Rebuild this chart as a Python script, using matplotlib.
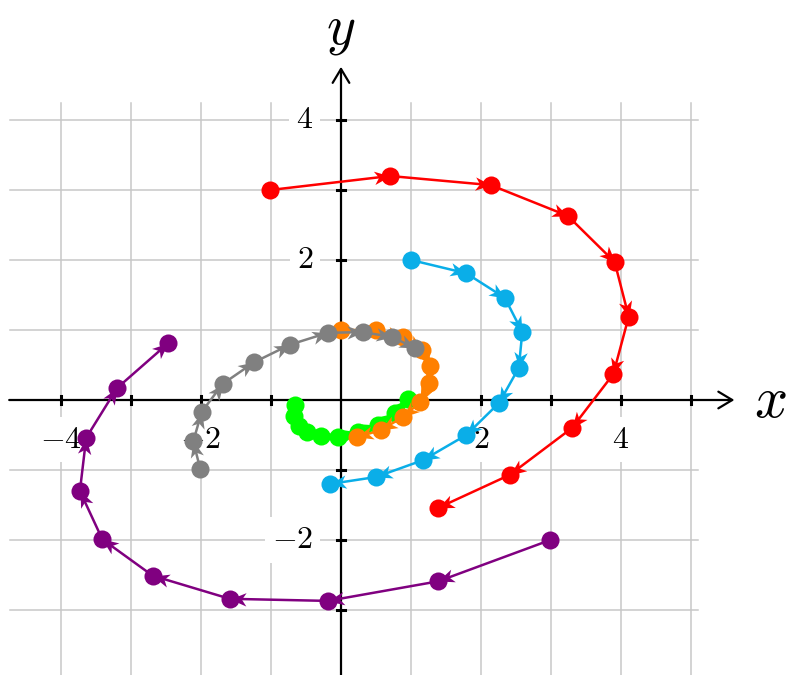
import math
import matplotlib
matplotlib.use("Agg")
import matplotlib.pyplot as plt
from matplotlib.path import Path
from matplotlib.markers import MarkerStyle
from matplotlib.transforms import Affine2D

plt.rcParams['mathtext.fontset'] = 'cm'

# trajectories, in travel order
red_x = [-1.01, 0.70, 2.14, 3.24, 3.91, 4.11, 3.89, 3.30, 2.41, 1.39]
red_y = [3.00, 3.20, 3.07, 2.63, 1.97, 1.19, 0.37, -0.40, -1.07, -1.54]

blue_x = [1.00, 1.79, 2.34, 2.59, 2.54, 2.26, 1.79, 1.17, 0.50, -0.16]
blue_y = [2.00, 1.81, 1.46, 0.97, 0.46, -0.04, -0.50, -0.86, -1.10, -1.20]

green_x = [-0.66, -0.67, -0.60, -0.49, -0.29, -0.04, 0.24, 0.53, 0.77, 0.96]
green_y = [-0.07, -0.23, -0.37, -0.46, -0.51, -0.53, -0.46, -0.36, -0.19, 0.01]

orange_x = [0.00, 0.50, 0.89, 1.16, 1.27, 1.26, 1.13, 0.89, 0.57, 0.23]
orange_y = [1.00, 1.00, 0.90, 0.71, 0.49, 0.24, -0.03, -0.24, -0.43, -0.53]

gray_x = [-2.01, -2.11, -1.99, -1.69, -1.24, -0.73, -0.19, 0.31, 0.73, 1.06]
gray_y = [-0.99, -0.59, -0.17, 0.23, 0.54, 0.79, 0.96, 0.97, 0.90, 0.74]

purple_x = [2.99, 1.39, -0.19, -1.59, -2.69, -3.41, -3.73, -3.64, -3.20, -2.47]
purple_y = [-2.00, -2.59, -2.87, -2.84, -2.51, -1.99, -1.30, -0.54, 0.17, 0.81]

x_ticks = [-4, -3, -2, -1, 1, 2, 3, 4, 5]
y_ticks = [-3, -2, -1, 1, 2, 3, 4]
x_labels = [-4, -2, 2, 4]
y_labels = [-2, 2, 4]

series = [
    (red_x, red_y, '#ff0000'),
    (blue_x, blue_y, '#0aaee8'),
    (green_x, green_y, '#00ff00'),
    (orange_x, orange_y, '#ff8000'),
    (gray_x, gray_y, '#808080'),
    (purple_x, purple_y, '#800080'),
]

# stealth-like arrowhead, tip at the origin, pointing along +x
stealth = Path([(0, 0), (-1, 0.42), (-0.72, 0), (-1, -0.42), (0, 0)],
               [Path.MOVETO, Path.LINETO, Path.LINETO, Path.LINETO, Path.CLOSEPOLY])


def head(angle):
    return MarkerStyle(stealth, transform=Affine2D().rotate(angle))


fig = plt.figure(figsize=(7.89, 6.75), dpi=100)
ax = fig.add_axes([0, 0, 1, 1])
ax.set_xlim(-341 / 70, 448 / 70)
ax.set_ylim(-275 / 70, 400 / 70)
ax.axis('off')

# grid
gx0, gx1, gy0, gy1 = -4.73, 5.1, -4.0, 4.24
for v in range(-4, 6):
    ax.plot([v, v], [gy0, gy1], color='#c8c8c8', lw=1.1, zorder=0)
for v in range(-3, 5):
    ax.plot([gx0, gx1], [v, v], color='#c8c8c8', lw=1.1, zorder=0)

# tick labels with white background
box = dict(facecolor='white', edgecolor='none', pad=5)
for v in x_labels:
    ax.text(v, -0.56, f'${v}$', ha='center', va='center', fontsize=23,
            bbox=box, zorder=1)
for v in y_labels:
    ax.text(-0.40, v, f'${v}$', ha='right', va='center', fontsize=23,
            bbox=box, zorder=1)

# axes with arrows
ax.annotate('', xy=(5.62, 0), xytext=(-4.74, 0),
            arrowprops=dict(arrowstyle='->,head_length=0.5,head_width=0.3',
                            color='black', lw=1.6, shrinkA=0, shrinkB=0,
                            mutation_scale=20), zorder=2)
ax.annotate('', xy=(0, 4.76), xytext=(0, -4.0),
            arrowprops=dict(arrowstyle='->,head_length=0.5,head_width=0.3',
                            color='black', lw=1.6, shrinkA=0, shrinkB=0,
                            mutation_scale=20), zorder=2)
for v in x_ticks:
    ax.plot([v, v], [-0.06, 0.06], color='black', lw=2.2, zorder=2)
for v in y_ticks:
    ax.plot([-0.06, 0.06], [v, v], color='black', lw=2.2, zorder=2)

ax.text(6.13, 0.0, '$x$', fontsize=42, ha='center', va='center')
ax.text(0.0, 5.29, '$y$', fontsize=40, ha='center', va='center')

# trajectories
for i, (xs, ys, c) in enumerate(series):
    z = 3 + i
    ax.plot(xs, ys, color=c, lw=1.8, zorder=z)
    for k in range(1, len(xs)):
        ang = math.atan2(ys[k] - ys[k - 1], xs[k] - xs[k - 1])
        ax.plot(xs[k], ys[k], marker=head(ang), ms=23, color=c,
                mec='none', zorder=z)
    ax.plot(xs, ys, 'o', color=c, ms=13, mec='none', zorder=z)

fig.savefig('out.png', dpi=100)
